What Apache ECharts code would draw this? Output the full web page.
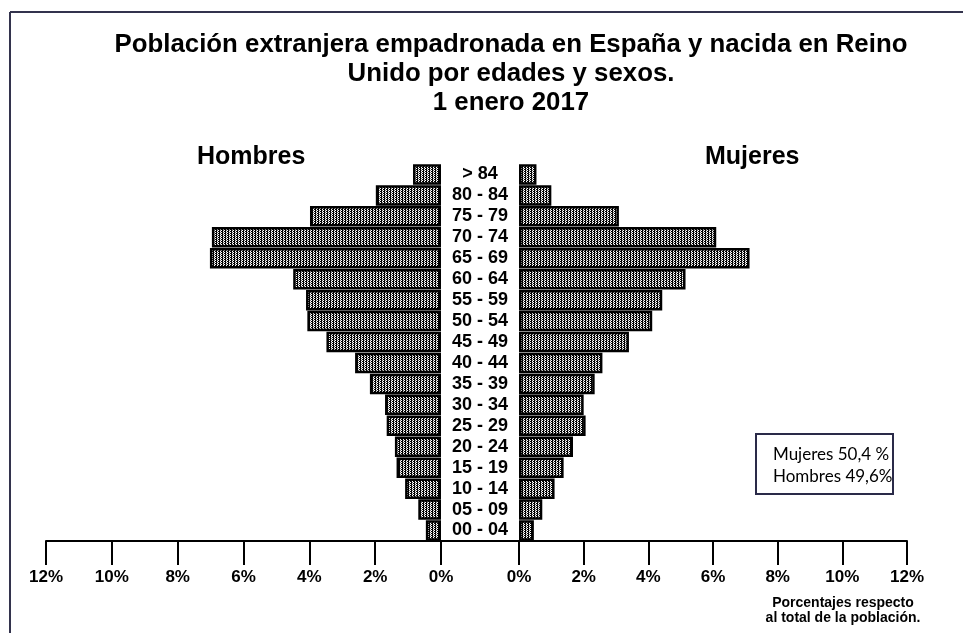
<!DOCTYPE html>
<html>
<head>
<meta charset="utf-8">
<script src="https://cdn.jsdelivr.net/npm/echarts@6/dist/echarts.min.js"></script>
<style>
  html, body { margin: 0; padding: 0; background: #fff; }
  #main { width: 963px; height: 633px; }
</style>
</head>
<body>
<div id="main"></div>
<script>
// grupos de edad, de abajo hacia arriba
var edades = ['00 - 04', '05 - 09', '10 - 14', '15 - 19', '20 - 24', '25 - 29', '30 - 34',
    '35 - 39', '40 - 44', '45 - 49', '50 - 54', '55 - 59', '60 - 64', '65 - 69',
    '70 - 74', '75 - 79', '80 - 84', '> 84'];

// porcentaje respecto al total
var hombres = [0.46, 0.69, 1.09, 1.35, 1.40, 1.65, 1.70, 2.16, 2.61, 3.48,
    4.06, 4.10, 4.49, 7.02, 6.96, 3.98, 1.98, 0.85];
var mujeres = [0.46, 0.72, 1.10, 1.38, 1.67, 2.06, 2.00, 2.34, 2.58, 3.40,
    4.12, 4.43, 5.15, 7.13, 6.10, 3.09, 1.00, 0.54];

var titulo = 'Población extranjera empadronada en España y nacida en Reino\nUnido por edades y sexos.\n1 enero 2017';
var resumen = ['Mujeres 50,4 %', 'Hombres 49,6%'];
var nota = 'Porcentajes respecto\nal total de la población.';

var fuente = '"Liberation Sans", Arial, sans-serif';

// trama punteada de las barras
function trama() {
    var c = document.createElement('canvas');
    c.width = 3;
    c.height = 2;
    var ctx = c.getContext('2d');
    ctx.fillStyle = '#fff';
    ctx.fillRect(0, 0, 3, 2);
    ctx.fillStyle = '#000';
    ctx.fillRect(0, 0, 1, 2);
    ctx.fillRect(2, 1, 1, 1);
    ctx.fillStyle = '#777';
    ctx.fillRect(1, 0, 1, 1);
    return c;
}

var relleno = { image: trama(), repeat: 'repeat' };

function ejeX(grid, invertido) {
    return {
        type: 'value',
        gridIndex: grid,
        inverse: invertido,
        min: 0,
        max: 12,
        interval: 2,
        axisLine: { show: true, lineStyle: { color: '#000', width: 2 } },
        axisTick: { show: true, length: 24, lineStyle: { color: '#000', width: 2 } },
        axisLabel: {
            formatter: '{value}%',
            color: '#000',
            fontFamily: fuente,
            fontWeight: 'bold',
            fontSize: 17,
            margin: 28
        },
        splitLine: { show: false }
    };
}

var chart = echarts.init(document.getElementById('main'));

chart.setOption({
    backgroundColor: '#fff',
    animation: false,
    title: {
        text: titulo,
        left: 506,
        top: 25,
        textAlign: 'center',
        textStyle: {
            fontFamily: fuente,
            fontWeight: 'bold',
            fontSize: 25.8,
            lineHeight: 29,
            color: '#000'
        }
    },
    grid: [
        { left: 46, width: 395, top: 164, bottom: 92 },
        { left: 441, width: 78, top: 164, bottom: 92 },
        { left: 519, width: 388, top: 164, bottom: 92 }
    ],
    xAxis: [
        ejeX(0, true),
        {
            type: 'value',
            gridIndex: 1,
            min: 0,
            max: 1,
            axisLine: { show: true, lineStyle: { color: '#000', width: 2 } },
            axisTick: { show: false },
            axisLabel: { show: false },
            splitLine: { show: false }
        },
        ejeX(2, false)
    ],
    yAxis: [
        { type: 'category', gridIndex: 0, data: edades, show: false },
        {
            type: 'category',
            gridIndex: 1,
            data: edades,
            axisLine: { show: false },
            axisTick: { show: false },
            axisLabel: {
                interval: 0,
                align: 'center',
                margin: -39,
                color: '#000',
                fontFamily: fuente,
                fontWeight: 'bold',
                fontSize: 18
            }
        },
        { type: 'category', gridIndex: 2, data: edades, show: false }
    ],
    series: [
        {
            name: 'Hombres',
            type: 'bar',
            xAxisIndex: 0,
            yAxisIndex: 0,
            data: hombres,
            barCategoryGap: '2%',
            itemStyle: { color: relleno, borderColor: '#000', borderWidth: 2.5 }
        },
        {
            name: 'Mujeres',
            type: 'bar',
            xAxisIndex: 2,
            yAxisIndex: 2,
            data: mujeres,
            barCategoryGap: '2%',
            itemStyle: { color: relleno, borderColor: '#000', borderWidth: 2.5 }
        }
    ],
    graphic: [
        // marco
        { type: 'line', shape: { x1: 10, y1: 12, x2: 963, y2: 12 }, style: { stroke: '#33334d', lineWidth: 2 } },
        { type: 'line', shape: { x1: 10, y1: 12, x2: 10, y2: 633 }, style: { stroke: '#33334d', lineWidth: 2 } },
        {
            type: 'text', left: 197, top: 145,
            style: { text: 'Hombres', font: 'bold 25px ' + fuente, fill: '#000' }
        },
        {
            type: 'text', left: 705, top: 145,
            style: { text: 'Mujeres', font: 'bold 25px ' + fuente, fill: '#000' }
        },
        {
            type: 'rect', shape: { x: 756, y: 434, width: 137, height: 60 },
            style: { fill: '#fff', stroke: '#2a2a48', lineWidth: 2 }
        },
        {
            type: 'text', left: 773, top: 444,
            style: { text: resumen.join('\n'), font: '17px Lato, sans-serif', lineHeight: 22, fill: '#000' }
        },
        {
            type: 'text',
            style: {
                x: 843, y: 596, text: nota, font: 'bold 14px ' + fuente, fill: '#000',
                align: 'center', lineHeight: 15
            }
        }
    ]
});
</script>
</body>
</html>
